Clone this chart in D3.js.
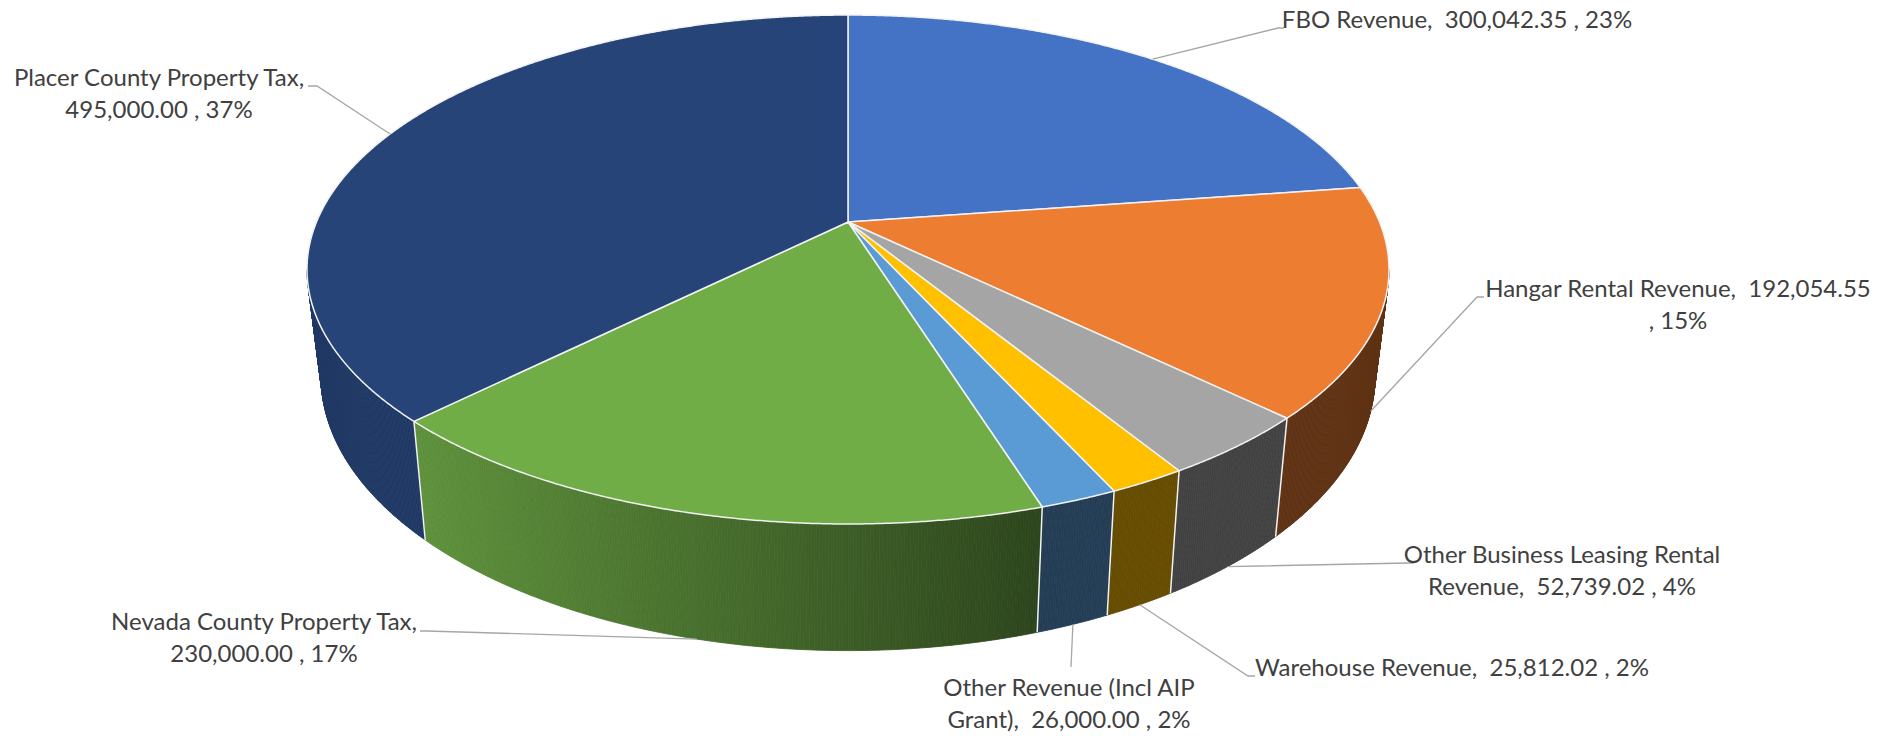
<!DOCTYPE html>
<html>
<head>
<meta charset="utf-8">
<script src="https://cdn.jsdelivr.net/npm/d3@7"></script>
<style>
  html, body { margin: 0; padding: 0; background: #ffffff; }
  svg { display: block; }
  text { white-space: pre; }
</style>
</head>
<body>
<svg id="chart" width="1896" height="736"></svg>
<script>
// ---------------- data ----------------
const categories = [
  "FBO Revenue",
  "Hangar Rental Revenue",
  "Other Business Leasing Rental Revenue",
  "Warehouse Revenue",
  "Other Revenue (Incl AIP Grant)",
  "Nevada County Property Tax",
  "Placer County Property Tax"
];
const values = [300042.35, 192054.55, 52739.02, 25812.02, 26000.00, 230000.00, 495000.00];
const sliceColors = ["#4472C4", "#ED7D31", "#A5A5A5", "#FFC000", "#5B9BD5", "#70AD47", "#264478"];

// ---------------- layout (positions / styles) ----------------
const W = 1896, H = 736;
const CX = 848, CY = 222;        // projected pie centre
const AX = 531.5, AY = 245.6;    // radius scale (x / y)
const PD = 5.357;                // perspective distance (in radii)
const DEPTH = 103;               // thickness
const KB = 0.974;                // bottom-face convergence
const FONT = "Lato, 'Open Sans', sans-serif";
const FONT_SIZE = 24;
const LINE_H = 32;
const TEXT_COLOR = "#404040";
const LEADER_COLOR = "#a6a6a6";

const labelLayout = [
  { cx: 1457, y: 28,  words: 99, pts: [[1278, 28], [1284, 28]] },
  { cx: 1678, y: 297, words: 5,  pts: [[1477, 297], [1484, 297]] },
  { cx: 1562, y: 563, words: 4,  pts: [[1408, 563], [1414, 563]] },
  { cx: 1452, y: 676, words: 99, pts: [[1248, 676], [1255, 676]] },
  { cx: 1069, y: 696, words: 4,  pts: [[1071, 667]] },
  { cx: 264,  y: 630, words: 4,  pts: [[427, 631], [420, 631]] },
  { cx: 159,  y: 86,  words: 4,  pts: [[317, 86], [308, 86]] }
];

// ---------------- projection ----------------
function topPt(t) {
  const u = Math.sin(t), v = -Math.cos(t);
  const s = PD / (PD - v);
  return [CX + s * u * AX, CY + s * v * AY, s];
}
function botPt(t) {
  const p = topPt(t);
  return [CX + (p[0] - CX) * KB, p[1] + p[2] * DEPTH];
}

const svg = d3.select("#chart");
const total = d3.sum(values);
const pie = d3.pie().sort(null).startAngle(0).endAngle(2 * Math.PI);
const arcs = pie(values);
const fmtVal = d3.format(",.2f");
const fmtPct = d3.format(".0%");

const tMin = Math.acos(-1 / PD);            // visible side range
const tMax = 2 * Math.PI - tMin;
const step = Math.PI / 720;

// shade factor for side faces (by x position)
const xLeft = topPt(arcs[5].endAngle)[0];
const xRight = topPt(arcs[5].startAngle)[0];
const shade = d3.scaleLinear().domain([xLeft, xRight]).range([0.84, 0.40]).clamp(true);
function shadeColor(c, b) {
  const r = d3.rgb(c);
  return d3.rgb(r.r * b, r.g * b, r.b * b).formatHex();
}

const line = d3.line();

// ---------------- sides ----------------
const gSide = svg.append("g");
arcs.forEach((a, i) => {
  const s0 = Math.max(a.startAngle, tMin), s1 = Math.min(a.endAngle, tMax);
  if (s1 <= s0) return;
  const n = Math.max(1, Math.ceil((s1 - s0) / step));
  for (let k = 0; k < n; k++) {
    const t0 = s0 + (s1 - s0) * k / n, t1 = s0 + (s1 - s0) * (k + 1) / n;
    const tm = (t0 + t1) / 2;
    const col = shadeColor(sliceColors[i], shade(topPt(tm)[0]));
    gSide.append("path")
      .attr("d", line([topPt(t0), topPt(t1), botPt(t1), botPt(t0)]) + "Z")
      .attr("fill", col).attr("stroke", col).attr("stroke-width", 0.8);
  }
});
// vertical edges at slice boundaries on the visible side
arcs.forEach(a => {
  const t = a.startAngle;
  if (t > tMin && t < tMax) {
    gSide.append("path")
      .attr("d", line([topPt(t), botPt(t)]))
      .attr("stroke", "#f2f2f2").attr("stroke-width", 1.5).attr("fill", "none");
  }
});

// ---------------- top faces ----------------
const gTop = svg.append("g");
arcs.forEach((a, i) => {
  const pts = [[CX, CY]];
  const n = Math.max(2, Math.ceil((a.endAngle - a.startAngle) / step));
  for (let k = 0; k <= n; k++) {
    const t = a.startAngle + (a.endAngle - a.startAngle) * k / n;
    pts.push(topPt(t));
  }
  gTop.append("path")
    .attr("d", line(pts.map(p => [p[0], p[1]])) + "Z")
    .attr("fill", sliceColors[i])
    .attr("stroke", "#f2f2f2").attr("stroke-width", 1.5)
    .attr("stroke-linejoin", "round");
});

// ---------------- leader lines & labels ----------------
const gLab = svg.append("g");
arcs.forEach((a, i) => {
  const L = labelLayout[i];
  const mid = (a.startAngle + a.endAngle) / 2;
  const front = Math.cos(mid) < 0;
  const anchor = front ? botPt(mid) : topPt(mid);
  const pts = [[anchor[0], anchor[1]]].concat(L.pts);
  gLab.append("path")
    .attr("d", line(pts))
    .attr("fill", "none").attr("stroke", LEADER_COLOR).attr("stroke-width", 1.3);

  const full = `${categories[i]},  ${fmtVal(values[i])} , ${fmtPct(values[i] / total)}`;
  const toks = full.split(" ");
  const lines = [toks.slice(0, L.words).join(" ").trim()];
  if (toks.length > L.words) lines.push(toks.slice(L.words).join(" ").trim());
  const txt = gLab.append("text")
    .attr("font-family", FONT).attr("font-size", FONT_SIZE)
    .attr("fill", TEXT_COLOR).attr("text-anchor", "middle");
  lines.forEach((ln, j) => {
    txt.append("tspan").attr("x", L.cx).attr("y", L.y + j * LINE_H).text(ln);
  });
});
</script>
</body>
</html>
